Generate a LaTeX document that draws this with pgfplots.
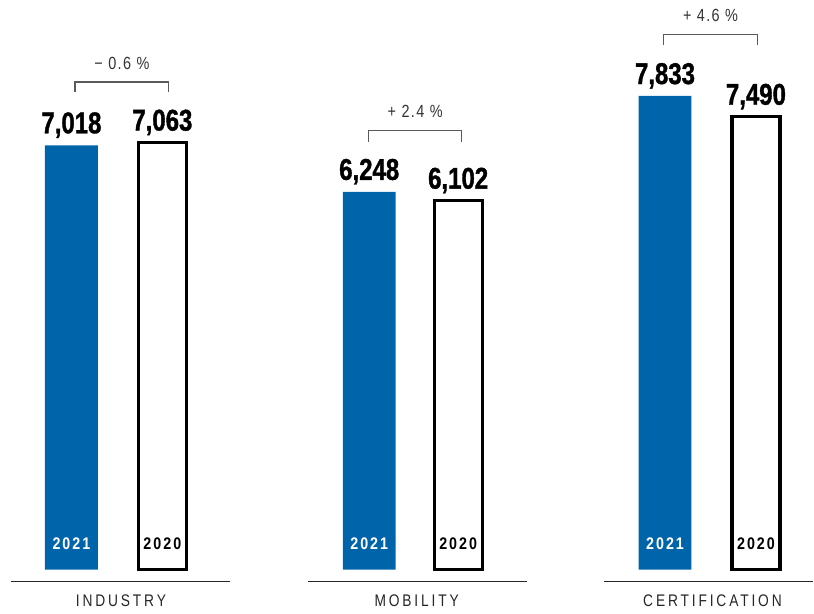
\documentclass[border=0pt]{standalone}
\usepackage{pgfplots}
\pgfplotsset{compat=1.18}
\usepackage{fontspec}
\setmainfont{Liberation Sans}
\newfontfamily\valfont[FakeStretch=0.8,FakeBold=1.2]{Liberation Sans}
\newfontfamily\pctfont[FakeStretch=0.82,LetterSpace=8]{Liberation Sans}
\newfontfamily\yearfont[FakeStretch=0.85,LetterSpace=12]{Liberation Sans}
\newfontfamily\catfont[FakeStretch=0.82,LetterSpace=17]{Liberation Sans}
\definecolor{barblue}{RGB}{0,100,170}
\definecolor{brgray}{RGB}{90,90,90}
\begin{document}
\begin{tikzpicture}
\begin{axis}[
  width=407pt, height=305.5pt, scale only axis,
  xmin=0, xmax=814, ymin=-678, ymax=9421,
  axis lines=none, ticks=none,
  clip=false,
  /pgf/number format/.cd, 1000 sep={,}, assume math mode=true,
  /pgfplots/.cd,
  nodes near coords,
  every node near coord/.append style={font=\valfont\bfseries\fontsize{15}{15}\selectfont, anchor=base, yshift=6pt, text=black, inner sep=0pt},
]
\path (rel axis cs:0,0) rectangle (rel axis cs:1,1);
% 2021 bars
\addplot[ybar, bar width=53, bar shift=0pt, fill=barblue, draw=none]
  coordinates {(71.5,7018) (369.5,6248) (665.5,7833)};
% 2020 bars
\addplot[ybar, bar width=48, bar shift=0pt, fill=white, draw=black, line width=1.6pt]
  coordinates {(162.5,7063) (458.5,6102) (756.5,7490)};
% year labels
\foreach \x in {71.5,369.5,665.5} {
  \edef\tmp{\noexpand\node[anchor=base, text=white, font=\noexpand\yearfont\noexpand\bfseries\noexpand\fontsize{8.4}{8.4}\noexpand\selectfont] at (axis cs:\x,331) {2021};}\tmp
}
\foreach \x in {162.5,458.5,756.5} {
  \edef\tmp{\noexpand\node[anchor=base, text=black, font=\noexpand\yearfont\noexpand\bfseries\noexpand\fontsize{8.4}{8.4}\noexpand\selectfont] at (axis cs:\x,331) {2020};}\tmp
}
% baselines
\draw[line width=0.6pt, black!85] (axis cs:11,-198) -- (axis cs:230,-198);
\draw[line width=0.6pt, black!85] (axis cs:308,-198) -- (axis cs:527,-198);
\draw[line width=0.6pt, black!85] (axis cs:604,-198) -- (axis cs:814,-198);
% category labels
\node[anchor=base, font=\catfont\fontsize{8.4}{8.4}\selectfont, text=black!85] at (axis cs:121,-612) {INDUSTRY};
\node[anchor=base, font=\catfont\fontsize{8.4}{8.4}\selectfont, text=black!85] at (axis cs:417,-612) {MOBILITY};
\node[anchor=base, font=\catfont\fontsize{8.4}{8.4}\selectfont, text=black!85] at (axis cs:713,-612) {CERTIFICATION};
% brackets
\draw[brgray, line width=0.6pt] (axis cs:75,7901) -- (axis cs:75,8066) -- (axis cs:169,8066) -- (axis cs:169,7901);
\draw[brgray, line width=0.6pt] (axis cs:369,7075) -- (axis cs:369,7257) -- (axis cs:462,7257) -- (axis cs:462,7075);
\draw[brgray, line width=0.6pt] (axis cs:664,8678) -- (axis cs:664,8844) -- (axis cs:758,8844) -- (axis cs:758,8678);
\node[anchor=base, font=\pctfont\fontsize{8.8}{8.8}\selectfont, text=black!80] at (axis cs:122,8265) {− 0.6 \%};
\node[anchor=base, font=\pctfont\fontsize{8.8}{8.8}\selectfont, text=black!80] at (axis cs:415.5,7472) {+ 2.4 \%};
\node[anchor=base, font=\pctfont\fontsize{8.8}{8.8}\selectfont, text=black!80] at (axis cs:711,9058) {+ 4.6 \%};
\end{axis}
\end{tikzpicture}
\end{document}
